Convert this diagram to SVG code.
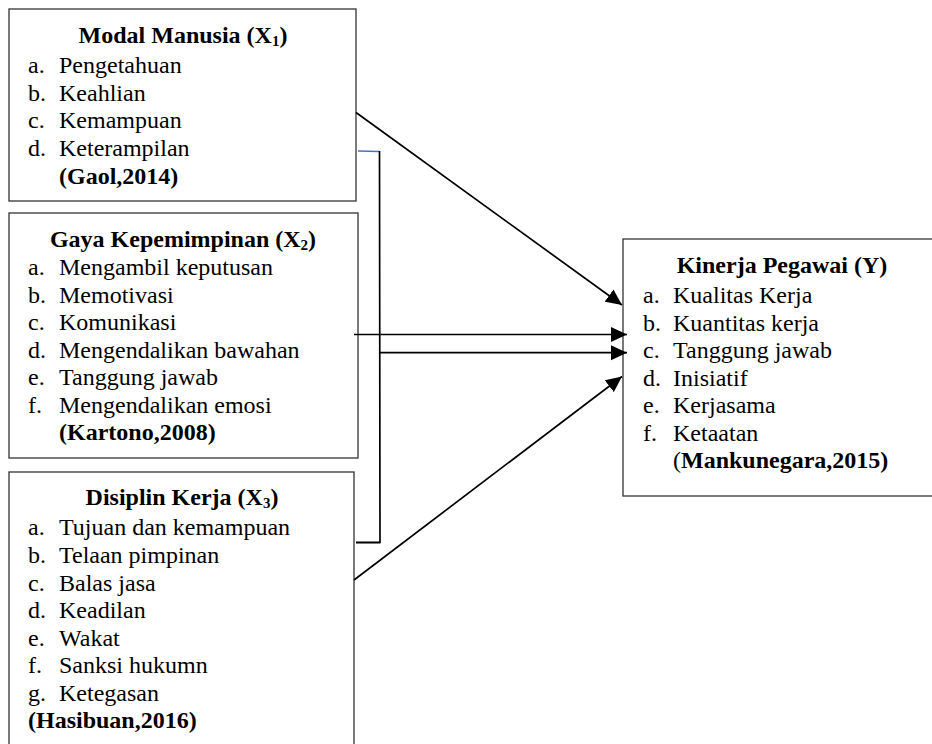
<svg xmlns="http://www.w3.org/2000/svg" width="932" height="744" viewBox="0 0 932 744" font-family="'Liberation Serif', Tinos, 'Times New Roman', 'DejaVu Serif', serif">
<style>
text{font-family:'Liberation Serif',Tinos,'Times New Roman','DejaVu Serif',serif;font-size:24px;fill:#000}
.t{font-weight:bold;text-anchor:middle}
.b{font-weight:bold}
.sub{font-size:15px}
.box{fill:#fff;stroke:#333;stroke-width:1.3}
.ln{fill:none;stroke:#000;stroke-width:1.7}
</style>
<defs>
<marker id="ah" markerUnits="userSpaceOnUse" markerWidth="17" markerHeight="16" refX="16" refY="8" orient="auto">
<path d="M0,0.5 L16,8 L0,15.5 z" fill="#000"/>
</marker>
</defs>
<rect width="932" height="744" fill="#fff"/>
<g id="x1">
<rect class="box" x="9" y="9" width="347" height="192"/>
<text class="t" x="183" y="43">Modal Manusia (X<tspan class="sub" dy="3">1</tspan><tspan dy="-3">)</tspan></text>
<text x="28" y="73">a.</text><text x="59" y="73">Pengetahuan</text>
<text x="28" y="101">b.</text><text x="59" y="101">Keahlian</text>
<text x="28" y="128">c.</text><text x="59" y="128">Kemampuan</text>
<text x="28" y="156">d.</text><text x="59" y="156">Keterampilan</text>
<text class="b" x="59" y="184">(Gaol,2014)</text>
</g>
<g id="x2">
<rect class="box" x="9" y="213" width="349" height="245"/>
<text class="t" x="183" y="247">Gaya Kepemimpinan (X<tspan class="sub" dy="3">2</tspan><tspan dy="-3">)</tspan></text>
<text x="28" y="275">a.</text><text x="59" y="275">Mengambil keputusan</text>
<text x="28" y="303">b.</text><text x="59" y="303">Memotivasi</text>
<text x="28" y="330">c.</text><text x="59" y="330">Komunikasi</text>
<text x="28" y="358">d.</text><text x="59" y="358">Mengendalikan bawahan</text>
<text x="28" y="385">e.</text><text x="59" y="385">Tanggung jawab</text>
<text x="28" y="413">f.</text><text x="59" y="413">Mengendalikan emosi</text>
<text class="b" x="59" y="440">(Kartono,2008)</text>
</g>
<g id="x3">
<rect class="box" x="9" y="472" width="345" height="290"/>
<text class="t" x="182" y="505">Disiplin Kerja (X<tspan class="sub" dy="3">3</tspan><tspan dy="-3">)</tspan></text>
<text x="28" y="535">a.</text><text x="59" y="535">Tujuan dan kemampuan</text>
<text x="28" y="563">b.</text><text x="59" y="563">Telaan pimpinan</text>
<text x="28" y="591">c.</text><text x="59" y="591">Balas jasa</text>
<text x="28" y="618">d.</text><text x="59" y="618">Keadilan</text>
<text x="28" y="646">e.</text><text x="59" y="646">Wakat</text>
<text x="28" y="673">f.</text><text x="59" y="673">Sanksi hukumn</text>
<text x="28" y="701">g.</text><text x="59" y="701">Ketegasan</text>
<text class="b" x="28" y="728">(Hasibuan,2016)</text>
</g>
<g id="y">
<rect class="box" x="623" y="239" width="330" height="257"/>
<text class="t" x="782" y="273">Kinerja Pegawai (Y)</text>
<text x="643" y="303">a.</text><text x="673" y="303">Kualitas Kerja</text>
<text x="643" y="331">b.</text><text x="673" y="331">Kuantitas kerja</text>
<text x="643" y="358">c.</text><text x="673" y="358">Tanggung jawab</text>
<text x="643" y="386">d.</text><text x="673" y="386">Inisiatif</text>
<text x="643" y="413">e.</text><text x="673" y="413">Kerjasama</text>
<text x="643" y="441">f.</text><text x="673" y="441">Ketaatan</text>
<text x="673" y="468">(<tspan class="b">Mankunegara,2015)</tspan></text>
</g>
<g id="connectors">
<path d="M358,151 L379.5,151.5" fill="none" stroke="#4472C4" stroke-width="1.6"/>
<path class="ln" d="M379.5,151 L380,542.5 L356,542.5"/>
<path class="ln" d="M356,542.5 L380,542.5" stroke-width="2.4"/>
<line class="ln" x1="356" y1="112.5" x2="622" y2="305" marker-end="url(#ah)"/>
<line class="ln" x1="354" y1="334.5" x2="627" y2="334.5" marker-end="url(#ah)"/>
<line class="ln" x1="380" y1="352.7" x2="627" y2="352.7" marker-end="url(#ah)"/>
<line class="ln" x1="354" y1="580" x2="622" y2="376.5" marker-end="url(#ah)"/>
</g>
</svg>
